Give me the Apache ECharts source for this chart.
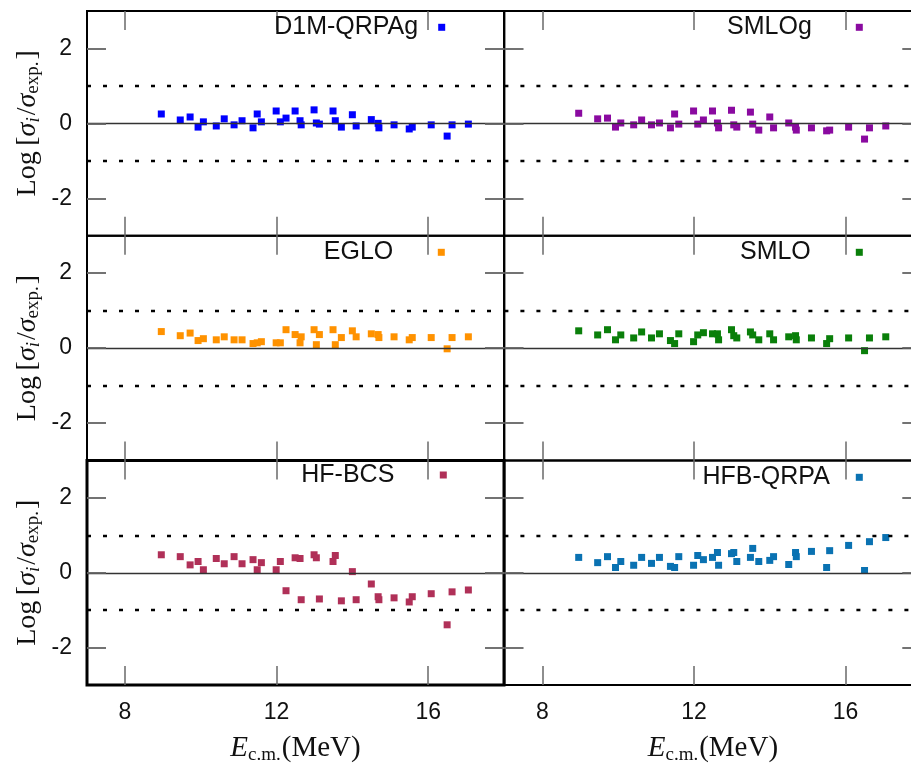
<!DOCTYPE html>
<html>
<head>
<meta charset="utf-8">
<script src="https://cdn.jsdelivr.net/npm/echarts@6/dist/echarts.min.js"></script>
<style>
html,body{margin:0;padding:0;background:#fff;}
#chart{width:911px;height:767px;}
</style>
</head>
<body>
<div id="chart"></div>
<script>
// ---- data ----
const energies = [8.96, 9.46, 9.72, 9.93, 10.07, 10.41, 10.62, 10.88, 11.09, 11.38, 11.49, 11.60,
  11.99, 12.10, 12.25, 12.49, 12.62, 12.65, 12.99, 13.05, 13.13, 13.49, 13.55, 13.71,
  14.00, 14.10, 14.50, 14.68, 14.70, 15.10, 15.50, 15.58, 16.08, 16.50, 16.63, 17.06];
const d1mQrpag = [0.25, 0.09, 0.17, -0.10, 0.04, -0.07, 0.12, -0.04, 0.07, -0.12, 0.25, 0.04,
  0.33, 0.04, 0.14, 0.33, 0.07, -0.04, 0.36, 0.01, -0.02, 0.33, 0.07, -0.10,
  0.23, -0.07, 0.10, 0.00, -0.12, -0.04, -0.15, -0.10, -0.04, -0.34, -0.04, -0.02];
const smlog = [0.27, 0.12, 0.14, -0.10, 0.01, -0.04, 0.09, -0.04, 0.01, -0.12, 0.25, -0.02,
  0.33, -0.02, 0.09, 0.33, 0.01, -0.12, 0.35, -0.04, -0.10, 0.30, -0.02, -0.18,
  0.17, -0.12, 0.01, -0.10, -0.18, -0.12, -0.20, -0.18, -0.10, -0.42, -0.12, -0.07];
const eglo = [0.44, 0.33, 0.40, 0.20, 0.25, 0.22, 0.30, 0.22, 0.22, 0.12, 0.14, 0.17,
  0.14, 0.14, 0.49, 0.36, 0.14, 0.30, 0.49, 0.09, 0.36, 0.49, 0.09, 0.28,
  0.46, 0.30, 0.38, 0.36, 0.28, 0.30, 0.22, 0.28, 0.28, -0.02, 0.28, 0.30];
const smlo = [0.46, 0.35, 0.49, 0.22, 0.35, 0.27, 0.43, 0.27, 0.38, 0.20, 0.12, 0.38,
  0.17, 0.35, 0.41, 0.38, 0.38, 0.22, 0.49, 0.33, 0.27, 0.43, 0.35, 0.22,
  0.38, 0.22, 0.30, 0.33, 0.22, 0.27, 0.12, 0.25, 0.27, -0.07, 0.27, 0.30];
const hfBcs = [0.48, 0.43, 0.21, 0.30, 0.08, 0.38, 0.24, 0.43, 0.24, 0.35, 0.08, 0.27,
  0.08, 0.30, -0.48, 0.40, 0.38, -0.72, 0.48, 0.40, -0.70, 0.30, 0.46, -0.75,
  0.03, -0.72, -0.30, -0.64, -0.72, -0.67, -0.78, -0.64, -0.56, -1.39, -0.51, -0.46];
const hfbQrpa = [0.41, 0.27, 0.43, 0.14, 0.30, 0.20, 0.41, 0.25, 0.41, 0.17, 0.14, 0.43,
  0.20, 0.46, 0.35, 0.41, 0.54, 0.20, 0.51, 0.54, 0.30, 0.41, 0.65, 0.30,
  0.33, 0.43, 0.22, 0.54, 0.43, 0.57, 0.14, 0.59, 0.73, 0.06, 0.83, 0.94];
const seriesNames = ['D1M-QRPAg', 'SMLOg', 'EGLO', 'SMLO', 'HF-BCS', 'HFB-QRPA'];
const seriesValues = [d1mQrpag, smlog, eglo, smlo, hfBcs, hfbQrpa];
const xTicks = [8, 12, 16];
const yTicks = [-2, 0, 2];
const refLines = [-1, 0, 1];

// ---- styles / layout ----
const colors = ['#0000ff', '#8a0aa0', '#ff9200', '#0a7f0a', '#b03058', '#0a72b2'];
const xMin = 7, xMax = 18, yMin = -3, yMax = 3;
const yTickLen = 0.5; // tick length in x units (~19 px)
const colLeft = [87, 504.4], colWidth = 417;
const rowTop = [11, 235.7, 460.4], rowHeight = 224.7;
const legendPos = [
  {right: 465.8, top: 27.3, pad: 15},
  {right: 48.2, top: 27.3, pad: 39},
  {right: 466.2, top: 252.3, pad: 39.5},
  {right: 48.2, top: 252.3, pad: 40},
  {right: 464.2, top: 475, pad: 40.5},
  {right: 48.2, top: 477.3, pad: 21}
];
const sans = 'Liberation Sans';
const serif = 'Liberation Serif';
const tickLine = {type: 'solid', color: '#6a6a6a', width: 1.5};

function makeTick(values) {
  return {show: true, inside: true, length: 19, customValues: values.slice(),
    lineStyle: {color: '#6a6a6a', width: 1.5}};
}

const grids = [], xAxes = [], yAxes = [], series = [], legends = [];
for (let k = 0; k < 6; k++) {
  const r = Math.floor(k / 2), c = k % 2;
  const rect = {left: colLeft[c], top: rowTop[r], width: colWidth, height: rowHeight,
    outerBoundsMode: 'none', containLabel: false};
  grids.push(Object.assign({show: true, borderColor: '#000', borderWidth: (k === 4 ? 3 : 2),
    backgroundColor: 'transparent'}, rect));
  grids.push(Object.assign({show: false}, rect));
  const bottomRow = r === 2;
  const leftCol = c === 0;
  xAxes.push({
    type: 'value', gridIndex: 2 * k, position: 'bottom', min: xMin, max: xMax,
    axisLine: {show: false, onZero: false}, splitLine: {show: false},
    axisTick: makeTick(xTicks),
    axisLabel: {show: bottomRow, customValues: xTicks.slice(), margin: 16,
      fontFamily: sans, fontSize: 23, color: '#111'},
    name: bottomRow ? '{e|E}{c|c.m.}{n|(MeV)}' : '',
    nameLocation: 'middle', nameGap: 48,
    nameTextStyle: {
      rich: {
        e: {fontFamily: serif, fontStyle: 'italic', fontSize: 29, color: '#111'},
        c: {fontFamily: serif, fontSize: 19, color: '#111', padding: [12, 1, 0, 0]},
        n: {fontFamily: serif, fontSize: 29, color: '#111'}
      }
    }
  });
  yAxes.push({
    type: 'value', gridIndex: 2 * k, position: 'left', min: yMin, max: yMax,
    axisLine: {show: false, onZero: false}, splitLine: {show: false},
    axisTick: makeTick(yTicks),
    axisLabel: {show: leftCol, customValues: yTicks.slice(), margin: 15,
      fontFamily: sans, fontSize: 23, color: '#111'},
    name: leftCol ? '{n|Log\u2009[}{s|σ}{i|i}{n|/}{s|σ}{x|exp.}{n|]}' : '',
    nameLocation: 'middle', nameGap: 44,
    nameTextStyle: {
      rich: {
        n: {fontFamily: serif, fontSize: 28, color: '#111'},
        s: {fontFamily: serif, fontStyle: 'italic', fontSize: 28, color: '#111'},
        i: {fontFamily: serif, fontStyle: 'italic', fontSize: 19, color: '#111', padding: [11, 2, 0, 0]},
        x: {fontFamily: serif, fontSize: 19, color: '#111', padding: [11, 2, 0, 0]}
      }
    }
  });
  xAxes.push({
    type: 'value', gridIndex: 2 * k + 1, position: 'top', min: xMin, max: xMax,
    axisLine: {show: false, onZero: false}, splitLine: {show: false},
    axisTick: makeTick(xTicks), axisLabel: {show: false, customValues: xTicks.slice()}
  });
  yAxes.push({
    type: 'value', gridIndex: 2 * k + 1, position: 'right', min: yMin, max: yMax,
    axisLine: {show: false, onZero: false}, splitLine: {show: false},
    axisTick: makeTick(yTicks), axisLabel: {show: false, customValues: yTicks.slice()}
  });
  // reference lines (0 solid, ±1 dotted) + y-axis tick marks on both sides
  const mlData = refLines.map(v => ({
    yAxis: v,
    lineStyle: v === 0 ? {type: 'solid', color: '#333', width: 1.3}
                       : {type: [4, 12], color: '#000', width: 2.3}
  }));
  yTicks.forEach(t => {
    mlData.push([{coord: [xMin, t], lineStyle: tickLine}, {coord: [xMin + yTickLen, t]}]);
    mlData.push([{coord: [xMax - yTickLen, t], lineStyle: tickLine}, {coord: [xMax, t]}]);
  });
  series.push({
    type: 'scatter', name: seriesNames[k],
    xAxisIndex: 2 * k, yAxisIndex: 2 * k,
    symbol: 'rect', symbolSize: 7,
    itemStyle: {color: colors[k], opacity: 1},
    data: energies.map((e, i) => [e, seriesValues[k][i]]),
    markLine: {
      silent: true, symbol: ['none', 'none'], label: {show: false}, animation: false,
      data: mlData
    }
  });
  const lp = legendPos[k];
  legends.push({
    data: [seriesNames[k]], right: lp.right, top: lp.top - 12.5,
    align: 'right', icon: 'rect', itemWidth: 7, itemHeight: 7, padding: 0,
    selectedMode: false,
    textStyle: {fontFamily: sans, fontSize: 25, color: '#111', padding: [0, lp.pad, 0, 0]}
  });
}

const chart = echarts.init(document.getElementById('chart'));
chart.setOption({
  animation: false,
  backgroundColor: '#fff',
  grid: grids, xAxis: xAxes, yAxis: yAxes, series: series, legend: legends
});
</script>
</body>
</html>
